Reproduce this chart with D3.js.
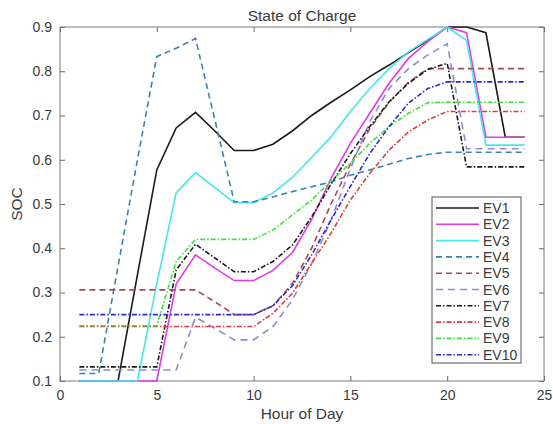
<!DOCTYPE html>
<html>
<head>
<meta charset="utf-8">
<script src="https://cdn.jsdelivr.net/npm/d3@7"></script>
<style>
  body { margin: 0; background: #fff; }
  text { font-family: "Liberation Sans", Arial, sans-serif; fill: #3a3a3a; }
</style>
</head>
<body>
<div id="chart"></div>
<script>
// DATA
const hours = [1,2,3,4,5,6,7,8,9,10,11,12,13,14,15,16,17,18,19,20,21,22,23,24];

const ev1  = [0.1,0.1,0.1,0.34,0.577,0.672,0.707,0.665,0.621,0.621,0.635,0.665,0.70,0.73,0.758,0.788,0.814,0.842,0.87,0.9,0.9,0.887,0.651,0.651];
const ev2  = [0.1,0.1,0.1,0.1,0.1,0.319,0.385,0.355,0.327,0.327,0.35,0.39,0.465,0.558,0.637,0.705,0.773,0.829,0.867,0.9,0.887,0.651,0.651,0.651];
const ev3  = [0.1,0.1,0.1,0.1,0.32,0.525,0.571,0.537,0.503,0.503,0.525,0.56,0.605,0.652,0.709,0.761,0.806,0.844,0.872,0.9,0.87,0.633,0.633,0.633];
const ev4  = [0.117,0.117,0.36,0.6,0.833,0.852,0.874,0.69,0.505,0.505,0.516,0.528,0.539,0.55,0.565,0.577,0.59,0.603,0.612,0.617,0.617,0.617,0.617,0.617];
const ev5  = [0.306,0.306,0.306,0.306,0.306,0.306,0.306,0.279,0.25,0.25,0.27,0.32,0.40,0.50,0.59,0.67,0.73,0.775,0.806,0.806,0.806,0.806,0.806,0.806];
const ev6  = [0.125,0.125,0.125,0.125,0.125,0.125,0.244,0.219,0.193,0.193,0.223,0.283,0.366,0.464,0.58,0.686,0.761,0.806,0.837,0.862,0.625,0.625,0.625,0.625];
const ev7  = [0.132,0.132,0.132,0.132,0.132,0.351,0.409,0.378,0.347,0.347,0.37,0.407,0.471,0.545,0.614,0.675,0.731,0.773,0.804,0.818,0.584,0.584,0.584,0.584];
const ev8  = [0.223,0.223,0.223,0.223,0.223,0.223,0.223,0.223,0.223,0.223,0.253,0.298,0.366,0.434,0.509,0.569,0.622,0.663,0.69,0.709,0.709,0.709,0.709,0.709];
const ev9  = [0.225,0.225,0.225,0.225,0.225,0.37,0.42,0.42,0.42,0.42,0.441,0.475,0.509,0.552,0.592,0.637,0.675,0.705,0.729,0.73,0.73,0.73,0.73,0.73];
const ev10 = [0.25,0.25,0.25,0.25,0.25,0.25,0.25,0.25,0.25,0.25,0.27,0.315,0.385,0.464,0.54,0.614,0.675,0.728,0.761,0.776,0.776,0.776,0.776,0.776];

const names = ["EV1","EV2","EV3","EV4","EV5","EV6","EV7","EV8","EV9","EV10"];
const xTicks = [0,5,10,15,20,25];
const yTicks = [0.1,0.2,0.3,0.4,0.5,0.6,0.7,0.8,0.9];

// STYLES (per series)
const colors = ["#1a1a1a","#e23ce6","#44e8e8","#3a82b8","#a84a52","#8c8cd0","#1a1a1a","#e03a3a","#3ee03e","#2a2ad0"];
const dashes = [null,null,null,"6,4","6,4","7,5","5,2,1.5,2","5,2,1.5,2","5,2,1.5,2","5,2,1.5,2"];

const series = [ev1,ev2,ev3,ev4,ev5,ev6,ev7,ev8,ev9,ev10].map(function(vals, i) {
    return {name: names[i], values: vals.map(function(v, j) { return {h: hours[j], v: v}; })};
});

// SVG
const width = 553, height = 424;
const margin = {top: 27, left: 60, right: 9, bottom: 43};

const svg = d3.select("#chart")
    .append("svg")
    .attr("width", width)
    .attr("height", height);

// SCALES
const xScale = d3.scaleLinear()
    .domain([0,25])
    .range([margin.left, width - margin.right]);

const yScale = d3.scaleLinear()
    .domain([0.1,0.9])
    .range([height - margin.bottom, margin.top]);

// AXES (matlab style: box + inward ticks on all sides)
function styleAxis(g) {
    g.select(".domain").remove();
    g.selectAll(".tick line").attr("stroke", "#6a6a6a");
    g.selectAll(".tick text").style("font-size", "14px").attr("fill", "#3a3a3a");
}

svg.append("g")
    .attr("transform", `translate(0,${height - margin.bottom})`)
    .call(d3.axisBottom(xScale).tickValues(xTicks).tickSizeInner(-5).tickSizeOuter(0).tickPadding(9))
    .call(styleAxis);

svg.append("g")
    .attr("transform", `translate(0,${margin.top})`)
    .call(d3.axisTop(xScale).tickValues(xTicks).tickSizeInner(-5).tickSizeOuter(0).tickFormat(""))
    .call(styleAxis);

svg.append("g")
    .attr("transform", `translate(${margin.left},0)`)
    .call(d3.axisLeft(yScale).tickValues(yTicks).tickSizeInner(-5).tickSizeOuter(0).tickPadding(8).tickFormat(d3.format(".1f")))
    .call(styleAxis);

svg.append("g")
    .attr("transform", `translate(${width - margin.right},0)`)
    .call(d3.axisRight(yScale).tickValues(yTicks).tickSizeInner(-5).tickSizeOuter(0).tickFormat(""))
    .call(styleAxis);

svg.append("rect")
    .attr("x", margin.left)
    .attr("y", margin.top)
    .attr("width", width - margin.left - margin.right)
    .attr("height", height - margin.top - margin.bottom)
    .attr("fill", "none")
    .attr("stroke", "#7a7a7a")
    .attr("stroke-width", 1);

// LABELS
svg.append("text")
    .attr("x", (margin.left + width - margin.right) / 2)
    .attr("y", 21)
    .attr("text-anchor", "middle")
    .style("font-size", "15.5px")
    .attr("fill", "#111")
    .text("State of Charge");

svg.append("text")
    .attr("x", (margin.left + width - margin.right) / 2)
    .attr("y", 419)
    .attr("text-anchor", "middle")
    .style("font-size", "15.5px")
    .text("Hour of Day");

svg.append("text")
    .attr("x", -(margin.top + height - margin.bottom) / 2)
    .attr("y", 22)
    .attr("text-anchor", "middle")
    .attr("transform", "rotate(-90)")
    .style("font-size", "15.5px")
    .text("SOC");

// LINES
const line = d3.line()
    .x(function(d) { return xScale(d.h); })
    .y(function(d) { return yScale(d.v); });

svg.selectAll(".ev")
    .data(series)
    .enter()
    .append("path")
        .attr("class", "ev")
        .attr("d", function(d) { return line(d.values); })
        .attr("fill", "none")
        .attr("stroke", function(d, i) { return colors[i]; })
        .attr("stroke-width", 1.6)
        .attr("stroke-dasharray", function(d, i) { return dashes[i]; });

// LEGEND
const legend = svg.append("g").attr("transform", "translate(432,197)");

legend.append("rect")
    .attr("width", 89)
    .attr("height", 166)
    .attr("fill", "#fff")
    .attr("stroke", "#555")
    .attr("stroke-width", 1);

const item = legend.selectAll(".item")
    .data(series)
    .enter()
    .append("g")
        .attr("class", "item")
        .attr("transform", function(d, i) { return `translate(0,${11 + i * 16.3})`; });

item.append("line")
    .attr("x1", 4).attr("x2", 47)
    .attr("stroke", function(d, i) { return colors[i]; })
    .attr("stroke-width", 1.6)
    .attr("stroke-dasharray", function(d, i) { return dashes[i]; });

item.append("text")
    .attr("x", 51)
    .attr("y", 5)
    .style("font-size", "14px")
    .text(function(d) { return d.name; });
</script>
</body>
</html>
